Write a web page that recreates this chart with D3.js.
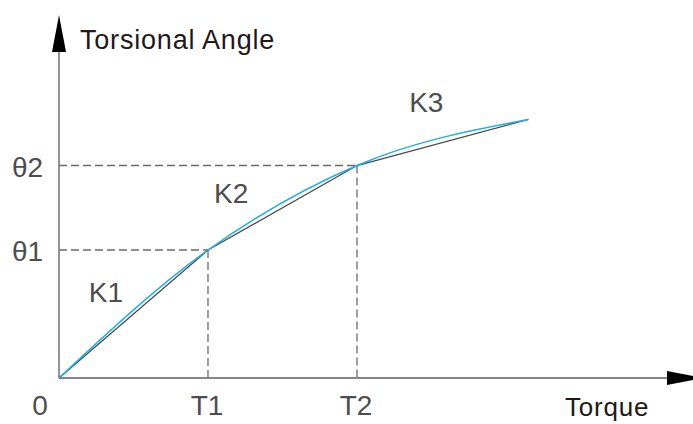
<!DOCTYPE html>
<html>
<head>
<meta charset="utf-8">
<script src="https://cdn.jsdelivr.net/npm/d3@7"></script>
<style>
  html, body { margin: 0; padding: 0; background: #fff; }
  svg { display: block; }
  text { font-family: "Liberation Sans", Arial, sans-serif; }
</style>
</head>
<body>
<svg id="chart" width="693" height="424"></svg>
<script>
// ---- data ----
const torque = [0, 1, 2, 3.15];          // 0, T1, T2, end
const angle  = [0, 1, 1.66, 2.02];       // 0, θ1, θ2, end
const xTickLabels = ["0", "T1", "T2"];
const yTickLabels = ["θ1", "θ2"];
const segmentLabels = ["K1", "K2", "K3"];
const segmentLabelPos = [[0.2, 0.59], [1.04, 1.37], [2.35, 2.08]]; // [torque, angle] anchors
const axisTitles = ["Torsional Angle", "Torque"];

// ---- layout ----
const W = 693, H = 424;
const svg = d3.select("#chart");
const x = d3.scaleLinear().domain([0, 1]).range([59, 208]);
const y = d3.scaleLinear().domain([0, 1]).range([378, 250]);

const pts = torque.map((t, i) => [t, angle[i]]);

// dashed guide lines for T1/θ1 and T2/θ2
const guideColor = "#6a6a6a";
[1, 2].forEach(i => {
  svg.append("line")
    .attr("x1", x(0)).attr("x2", x(torque[i]))
    .attr("y1", y(angle[i])).attr("y2", y(angle[i]))
    .attr("stroke", guideColor).attr("stroke-width", 1.3)
    .attr("stroke-dasharray", "8,4");
  svg.append("line")
    .attr("x1", x(torque[i])).attr("x2", x(torque[i]))
    .attr("y1", y(angle[i])).attr("y2", y(0))
    .attr("stroke", guideColor).attr("stroke-width", 1.3)
    .attr("stroke-dasharray", "8,4");
});

// axes
const axisColor = "#858585";
svg.append("line")
  .attr("x1", x(0)).attr("x2", 667)
  .attr("y1", y(0)).attr("y2", y(0))
  .attr("stroke", axisColor).attr("stroke-width", 2);
svg.append("line")
  .attr("x1", x(0)).attr("x2", x(0))
  .attr("y1", y(0)).attr("y2", 52)
  .attr("stroke", "#7a7a7a").attr("stroke-width", 1.6);

// arrow heads
svg.append("path")
  .attr("d", `M${x(0) - 7},52 L${x(0) + 7},52 L${x(0)},15 Z`)
  .attr("fill", "#000");
svg.append("path")
  .attr("d", `M667,${y(0) - 7} L667,${y(0) + 7} L704,${y(0)} Z`)
  .attr("fill", "#000");

// piecewise linear (black) and smooth (blue) curves
svg.append("path")
  .datum(pts)
  .attr("d", d3.line().x(d => x(d[0])).y(d => y(d[1])))
  .attr("fill", "none").attr("stroke", "#4a4a4a").attr("stroke-width", 1.3);
svg.append("path")
  .datum(pts)
  .attr("d", d3.line().x(d => x(d[0])).y(d => y(d[1])).curve(d3.curveMonotoneX))
  .attr("fill", "none").attr("stroke", "#1fb0e6").attr("stroke-width", 1.5);

// tick labels
const labelColor = "#4d4d4d";
const labelSize = 28;
xTickLabels.forEach((lab, i) => {
  svg.append("text")
    .attr("x", x(torque[i]) + (i === 0 ? -19 : -1))
    .attr("y", 415)
    .attr("text-anchor", "middle")
    .attr("font-size", labelSize)
    .attr("fill", labelColor)
    .text(lab);
});
yTickLabels.forEach((lab, i) => {
  svg.append("text")
    .attr("x", 12)
    .attr("y", y(angle[i + 1]) + 11)
    .attr("font-size", labelSize)
    .attr("fill", labelColor)
    .text(lab);
});
segmentLabels.forEach((lab, i) => {
  svg.append("text")
    .attr("x", x(segmentLabelPos[i][0]))
    .attr("y", y(segmentLabelPos[i][1]))
    .attr("font-size", labelSize)
    .attr("fill", labelColor)
    .text(lab);
});

// axis titles
svg.append("text")
  .attr("x", 80).attr("y", 49)
  .attr("font-size", 27).attr("letter-spacing", 0.8)
  .attr("fill", "#231815")
  .text(axisTitles[0]);
svg.append("text")
  .attr("x", 565).attr("y", 416)
  .attr("font-size", 26).attr("letter-spacing", 0.8)
  .attr("fill", "#231815")
  .text(axisTitles[1]);
</script>
</body>
</html>
